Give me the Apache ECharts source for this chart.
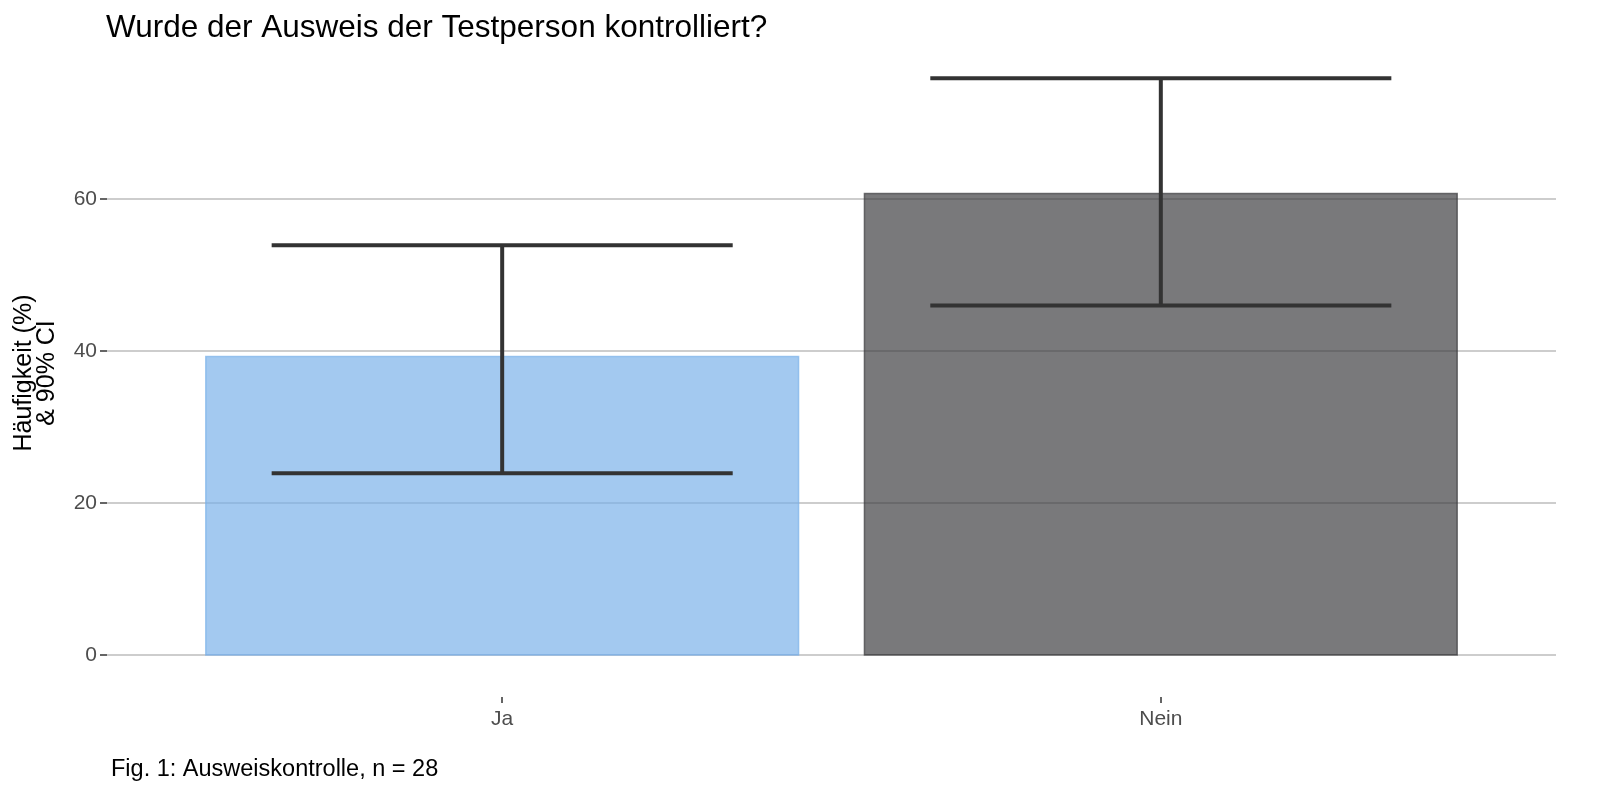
<!DOCTYPE html>
<html><head><meta charset="utf-8">
<script src="https://cdn.jsdelivr.net/npm/echarts@6/dist/echarts.min.js"></script>
<style>html,body{margin:0;padding:0;background:#fff}#c{width:1600px;height:800px}</style>
</head><body><div id="c"></div>
<script>
const categories = ["Ja", "Nein"];
const values = [39.29, 60.71];
const ciLow = [23.9, 46.0];
const ciHigh = [53.9, 75.9];
const yTicks = [0, 20, 40, 60];
const barColors = ["rgba(120,176,233,0.68)", "rgba(58,58,61,0.68)"];

const font = "'Liberation Sans', Arial, Helvetica, sans-serif";
const chart = echarts.init(document.getElementById('c'));
const barData = categories.map((c, i) => [i + 1, values[i], i]);
const errData = categories.map((c, i) => [i + 1, ciLow[i], ciHigh[i]]);
const gridData = yTicks.map(v => [1, v]);

chart.setOption({
  animation: false,
  textStyle: { fontFamily: font },
  title: {
    text: "Wurde der Ausweis der Testperson kontrolliert?",
    left: 106, top: 12, padding: 0,
    textStyle: { fontSize: 31.5, fontWeight: 'normal', color: '#000', fontFamily: font }
  },
  graphic: [
    {
      type: 'text', left: 111, top: 758,
      style: { text: "Fig. 1: Ausweiskontrolle, n = 28", fontSize: 23.5, fill: '#000', fontFamily: font }
    },
    {
      type: 'text', x: 36, y: 373, rotation: Math.PI / 2,
      style: {
        text: "Häufigkeit (%)\n& 90% CI", fontSize: 25, lineHeight: 23, fill: '#000',
        fontFamily: font, align: 'center', verticalAlign: 'middle'
      }
    }
  ],
  grid: { left: 107, right: 44, top: 47, bottom: 103 },
  xAxis: {
    type: 'value', min: 0.4, max: 2.6,
    axisLine: { show: false, onZero: false },
    splitLine: { show: false },
    axisTick: { show: true, customValues: [1, 2], length: 6, lineStyle: { color: '#333', width: 1.5 } },
    axisLabel: {
      customValues: [1, 2], margin: 12, fontSize: 21, color: '#4d4d4d', fontFamily: font,
      formatter: v => categories[Math.round(v) - 1] || ''
    }
  },
  yAxis: {
    type: 'value', min: -5.526, max: 80,
    axisLine: { show: false, onZero: false },
    axisTick: { show: true, customValues: yTicks, length: 7, lineStyle: { color: '#333', width: 1.5 } },
    axisLabel: {
      customValues: yTicks, margin: 10, fontSize: 21, color: '#4d4d4d', fontFamily: font,
      formatter: v => String(v)
    },
    splitLine: { show: false }
  },
  series: [
    {
      type: 'custom', z: 1, silent: true,
      data: gridData,
      renderItem: function (params, api) {
        const cs = params.coordSys;
        const p = api.coord([api.value(0), api.value(1)]);
        return {
          type: 'line',
          shape: { x1: cs.x, y1: p[1], x2: cs.x + cs.width, y2: p[1] },
          style: { stroke: '#bdbdbd', lineWidth: 1.5 }
        };
      }
    },
    {
      type: 'custom', z: 3,
      data: barData,
      renderItem: function (params, api) {
        const x = api.value(0), y = api.value(1), idx = api.value(2);
        const top = api.coord([x, y]);
        const base = api.coord([x, 0]);
        const w = api.size([0.9, 0])[0];
        return {
          type: 'rect',
          shape: { x: top[0] - w / 2, y: top[1], width: w, height: base[1] - top[1] },
          style: { fill: barColors[idx], stroke: barColors[idx], lineWidth: 1.5 }
        };
      }
    },
    {
      type: 'custom', z: 4,
      data: errData,
      renderItem: function (params, api) {
        const x = api.value(0);
        const lo = api.coord([x, api.value(1)]);
        const hi = api.coord([x, api.value(2)]);
        const hw = api.size([0.7, 0])[0] / 2;
        const st = { stroke: '#333333', lineWidth: 4 };
        return {
          type: 'group',
          children: [
            { type: 'line', shape: { x1: lo[0], y1: lo[1], x2: hi[0], y2: hi[1] }, style: st },
            { type: 'line', shape: { x1: lo[0] - hw, y1: lo[1], x2: lo[0] + hw, y2: lo[1] }, style: st },
            { type: 'line', shape: { x1: hi[0] - hw, y1: hi[1], x2: hi[0] + hw, y2: hi[1] }, style: st }
          ]
        };
      }
    }
  ]
});
</script></body></html>
